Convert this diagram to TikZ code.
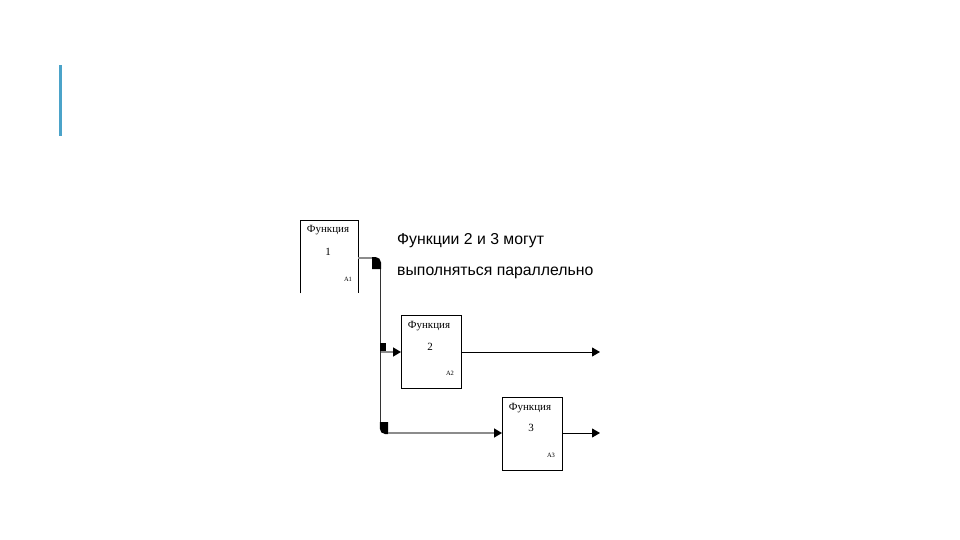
\documentclass[tikz,border=0pt]{standalone}
\usepackage{fontspec}
\setmainfont{Liberation Serif}
\newfontfamily\notefont{Liberation Sans}
\usetikzlibrary{arrows.meta}
\definecolor{barblue}{HTML}{4BA3C9}
\definecolor{lgray}{HTML}{8C8C8C}
\tikzset{
  fbox/.style={draw=black, line width=0.9pt, minimum width=60pt, minimum height=73pt, inner sep=0pt},
  ftitle/.style={font=\fontsize{11}{12}\selectfont, inner sep=0pt},
  fnum/.style={font=\fontsize{11}{12}\selectfont, inner sep=0pt},
  fcode/.style={font=\fontsize{6.5}{7}\selectfont, inner sep=0pt},
  note/.style={font=\notefont\fontsize{15.8}{18}\selectfont, anchor=west, inner sep=0pt},
  outarrow/.style={line width=1pt, -{Triangle[length=8pt,width=9pt]}},
  grayarrow/.style={draw=lgray, line width=1.4pt, -{Triangle[length=8pt,width=9pt,fill=black,color=black]}},
}
\begin{document}
\begin{tikzpicture}[x=1pt,y=-1pt]
\useasboundingbox (0,0) rectangle (960,540);
% blue bar
\fill[barblue] (59,65) rectangle (62,136);

% box 1 (open bottom)
\node[minimum width=58pt, minimum height=73pt, inner sep=0pt, anchor=north west] (b1) at (300,220) {};
\draw[line width=0.9pt] (b1.south west) -- (b1.north west) -- (b1.north east) -- (b1.south east);
\node[ftitle] (t1) at (328,230) {Функция};
\node[fnum] (n1) at (328,252) {1};
\node[fcode] (c1) at (348,279) {A1};

% box 2
\node[fbox, anchor=north west] (b2) at (401,315) {};
\node[ftitle] (t2) at (429,326) {Функция};
\node[fnum] (n2) at (430,347) {2};
\node[fcode] (c2) at (450,373) {A2};

% box 3
\node[fbox, anchor=north west] (b3) at (502,397) {};
\node[ftitle] (t3) at (530,408) {Функция};
\node[fnum] (n3) at (531,428) {3};
\node[fcode] (c3) at (551,455) {A3};

% annotation
\node[note] (note1) at (397,241) {Функции 2 и 3 могут};
\node[note] (note2) at (397,273) {выполняться параллельно};

% connector coordinates
\coordinate (s1) at (b1.east |- 0,258);
\coordinate (k1) at (372,258);
\coordinate (j2) at (381,352);
\coordinate (e2) at (b2.west |- 0,352);
\coordinate (k3) at (388,433);
\coordinate (e3) at (b3.west |- 0,433);
\coordinate (o2) at (600,352);
\coordinate (o3) at (600,433);

% branch lines
\draw[lgray, line width=1.4pt] (s1) -- (k1);
\draw[black!80, line width=1.1pt] (380.3,266) -- (380.3,424);
% top rounded corner blob
\fill[black] (372,257) -- (375.5,257) .. controls (378.5,257) and (381,259.5) .. (381,262.5) -- (381,269) -- (372,269) -- cycle;
% junction square
\fill[black] (380,343) rectangle (386,350.5);
\draw[grayarrow] (j2) -- (e2);
% bottom rounded corner blob
\fill[black] (379.8,422) -- (379.8,428.5) .. controls (379.8,431.5) and (382,434) .. (385,434) -- (388,434) -- (388,422) -- cycle;
\draw[grayarrow] (k3) -- (e3);

% outputs
\draw[outarrow] (b2.east |- o2) -- (o2);
\draw[outarrow] (b3.east |- o3) -- (o3);
\end{tikzpicture}
\end{document}
